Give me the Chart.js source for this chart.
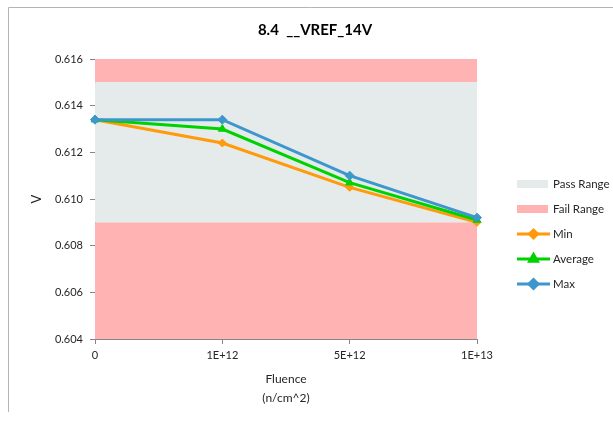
<!DOCTYPE html>
<html>
<head>
<meta charset="utf-8">
<script src="https://cdn.jsdelivr.net/npm/chart.js@4.4.1/dist/chart.umd.min.js"></script>
<style>
    html, body { margin: 0; padding: 0; background: #fff; }
</style>
</head>
<body>
<canvas id="vrefChart" width="613" height="422"></canvas>
<script>
// chart data
const categories = ['0', '1E+12', '5E+12', '1E+13'];
const minValues = [0.6134, 0.6124, 0.6105, 0.6090];
const avgValues = [0.6134, 0.6130, 0.6107, 0.6091];
const maxValues = [0.6134, 0.6134, 0.6110, 0.6092];
const passRange = [0.609, 0.615]; // low / high limit
const yTicks = [0.604, 0.606, 0.608, 0.610, 0.612, 0.614, 0.616];

const passColor = '#E5EBEB';
const failColor = '#FFB3B3';
const textColor = '#262626';
const axisColor = '#868686';
const fontFamily = 'Lato, "Open Sans", sans-serif';

// white background + the frame lines at top / left
const framePlugin = {
    id: 'frame',
    beforeDraw(chart) {
        const ctx = chart.ctx;
        ctx.save();
        ctx.fillStyle = '#fff';
        ctx.fillRect(0, 0, chart.width, chart.height);
        ctx.strokeStyle = '#B4B4B4';
        ctx.lineWidth = 1;
        ctx.beginPath();
        ctx.moveTo(8.5, 412);
        ctx.lineTo(8.5, 7.5);
        ctx.lineTo(chart.width, 7.5);
        ctx.stroke();
        ctx.restore();
    }
};

// Excel-like legend on the right
const sideLegend = {
    id: 'sideLegend',
    afterDraw(chart) {
        const ctx = chart.ctx;
        const x0 = 517;
        let y = 184;
        ctx.save();
        ctx.font = '11.5px ' + fontFamily;
        ctx.textBaseline = 'middle';
        ctx.textAlign = 'left';
        chart.data.datasets.forEach(ds => {
            if (!ds.showInLegend) return;
            if (ds.isRange) {
                ctx.fillStyle = ds.backgroundColor;
                ctx.fillRect(x0, y - 4, 31, 8);
            } else {
                ctx.strokeStyle = ds.borderColor;
                ctx.lineWidth = 3;
                ctx.beginPath();
                ctx.moveTo(x0, y);
                ctx.lineTo(x0 + 33, y);
                ctx.stroke();
                ctx.fillStyle = ds.pointBackgroundColor;
                ctx.strokeStyle = ds.pointBorderColor;
                Chart.helpers.drawPoint(ctx, {
                    pointStyle: ds.pointStyle,
                    radius: ds.pointRadius,
                    rotation: 0,
                    borderWidth: 1
                }, x0 + 16.5, y);
            }
            ctx.fillStyle = textColor;
            ctx.fillText(ds.label, x0 + 36, y);
            y += 25;
        });
        ctx.restore();
    }
};

const flat = v => categories.map(() => v);

function seriesDataset(label, data, color, style, radius, order) {
    return {
        label: label,
        data: data,
        borderColor: color,
        backgroundColor: color,
        pointBackgroundColor: color,
        pointBorderColor: color,
        pointStyle: style,
        pointRadius: radius,
        pointBorderWidth: 1,
        borderWidth: 3,
        tension: 0,
        fill: false,
        order: order,
        showInLegend: true
    };
}

function rangeDataset(label, data, color, fill, legend) {
    return {
        label: label,
        data: data,
        borderWidth: 0,
        borderColor: 'rgba(0,0,0,0)',
        backgroundColor: color,
        pointRadius: 0,
        fill: fill,
        order: 10,
        isRange: true,
        showInLegend: legend
    };
}

const ctx = document.getElementById('vrefChart').getContext('2d');

new Chart(ctx, {
    type: 'line',
    data: {
        labels: categories,
        datasets: [
            rangeDataset('Pass Range', flat(passRange[1]), passColor, { value: passRange[0] }, true),
            rangeDataset('Fail Range', flat(passRange[0]), failColor, 'start', true),
            rangeDataset('Fail Range', flat(passRange[1]), failColor, 'end', false),
            seriesDataset('Min', minValues, '#FF9A0A', 'rectRot', 4, 3),
            seriesDataset('Average', avgValues, '#00D200', 'triangle', 4.5, 2),
            seriesDataset('Max', maxValues, '#3D97CC', 'rectRot', 4.5, 1)
        ]
    },
    options: {
        responsive: false,
        animation: false,
        layout: { padding: { left: 17, right: 0, top: 0, bottom: 0 } },
        plugins: {
            legend: { display: false },
            tooltip: { enabled: false },
            title: {
                display: true,
                text: '8.4  __VREF_14V',
                color: '#000',
                font: { family: fontFamily, size: 15, weight: 'bold' },
                padding: { top: 21, bottom: 20 }
            }
        },
        scales: {
            x: {
                type: 'category',
                offset: false,
                grid: { display: true, drawOnChartArea: false, tickLength: 5, color: axisColor },
                border: { color: axisColor },
                ticks: {
                    color: textColor,
                    padding: 5,
                    maxRotation: 0,
                    font: { family: fontFamily, size: 11 }
                },
                title: {
                    display: true,
                    text: ['Fluence', '(n/cm^2)'],
                    color: textColor,
                    font: { family: fontFamily, size: 12, lineHeight: 1.55 },
                    padding: { top: 4, bottom: 15 }
                },
                afterFit(scale) { scale.height = 83; }
            },
            y: {
                position: 'left',
                min: 0.604,
                max: 0.616,
                afterBuildTicks(scale) {
                    scale.ticks = yTicks.map(v => ({ value: v }));
                },
                grid: { display: true, drawOnChartArea: false, tickLength: 5, color: axisColor },
                border: { color: axisColor },
                ticks: {
                    color: textColor,
                    padding: 7,
                    font: { family: fontFamily, size: 11 },
                    callback: value => value.toFixed(3)
                },
                title: {
                    display: true,
                    text: 'V',
                    color: textColor,
                    font: { family: fontFamily, size: 13 },
                    padding: { top: 12, bottom: 0 }
                },
                afterFit(scale) { scale.width = 78; }
            },
            // empty axis that only reserves the room used by the legend
            yRight: {
                position: 'right',
                display: true,
                grid: { display: false },
                border: { display: false },
                ticks: { display: false },
                afterFit(scale) { scale.width = 136; }
            }
        }
    },
    plugins: [framePlugin, sideLegend]
});
</script>
</body>
</html>
